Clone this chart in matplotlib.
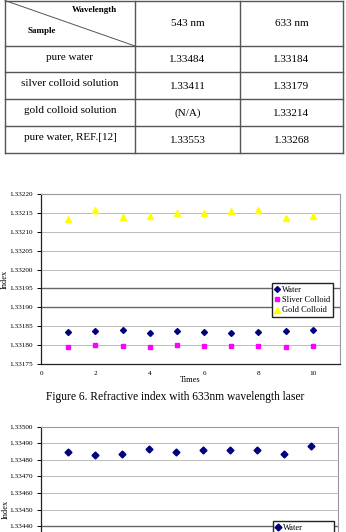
import numpy as np
import matplotlib.pyplot as plt
from matplotlib.lines import Line2D

# ------------------ DATE ------------------
samples = ["pure water", "silver colloid solution", "gold colloid solution", "pure water, REF.[12]"]
wavelengths = ["543 nm", "633 nm"]
idx_543 = ["1.33484", "1.33411", "(N/A)", "1.33553"]
idx_633 = ["1.33184", "1.33179", "1.33214", "1.33268"]

times = [1, 2, 3, 4, 5, 6, 7, 8, 9, 10]
water_633 = [1.331835, 1.331838, 1.331840, 1.331833, 1.331838, 1.331835, 1.331833, 1.331835, 1.331838, 1.331840]
silver_633 = [1.331796, 1.331801, 1.331798, 1.331796, 1.331800, 1.331798, 1.331797, 1.331797, 1.331796, 1.331798]
gold_633 = [1.332135, 1.332157, 1.332139, 1.332141, 1.332150, 1.332149, 1.332155, 1.332157, 1.332137, 1.332141]
water_543 = [1.334844, 1.334828, 1.334836, 1.334866, 1.334844, 1.334856, 1.334856, 1.334858, 1.334836, 1.334882]

caption = "Figure 6. Refractive index with 633nm wavelength laser"

# ------------------ FIGURA ------------------
W, H = 346, 532
plt.rcParams['font.family'] = ['Liberation Serif', 'DejaVu Serif']
fig = plt.figure(figsize=(W / 100, H / 100), dpi=100)


def box(l, t, r, b):
    return [l / W, 1 - b / H, (r - l) / W, (b - t) / H]


# ------------------ TABEL ------------------
tab = fig.add_axes([0, 0, 1, 1])
tab.set_xlim(0, W)
tab.set_ylim(H, 0)
tab.axis("off")

col_x = [5, 135, 240, 343]
row_y = [0.5, 46, 72, 99, 126, 153]
lc = "#555555"
for x in col_x:
    tab.plot([x, x], [row_y[0], row_y[-1]], color=lc, lw=1.0)
for y in row_y:
    tab.plot([col_x[0], col_x[-1]], [y, y], color=lc, lw=1.0)
tab.plot([col_x[0], col_x[1]], [row_y[0], row_y[1]], color=lc, lw=0.7)

tab.text(95, 10, "Wavelength", fontsize=6.5, fontweight="bold", ha="center", va="center")
tab.text(42, 31, "Sample", fontsize=6.5, fontweight="bold", ha="center", va="center")
for j, wl in enumerate(wavelengths):
    tab.text((col_x[j + 1] + col_x[j + 2]) / 2, 24, wl, fontsize=8, ha="center", va="center")
for i, s in enumerate(samples):
    yc = (row_y[i + 1] + row_y[i + 2]) / 2
    tab.text((col_x[0] + col_x[1]) / 2, yc - 2, s, fontsize=8, ha="center", va="center")
    tab.text((col_x[1] + col_x[2]) / 2, yc + 1, idx_543[i], fontsize=8, ha="center", va="center")
    tab.text((col_x[2] + col_x[3]) / 2, yc + 1, idx_633[i], fontsize=8, ha="center", va="center")


def style_axes(ax, yticks, dark_levels=()):
    ax.set_xlim(0, 11)
    ax.set_xticks([0, 2, 4, 6, 8, 10])
    ax.set_yticks(yticks)
    ax.tick_params(axis="x", length=0, labelsize=5.2, pad=5)
    ax.tick_params(axis="y", length=3, width=0.7, labelsize=5.2, pad=3)
    ax.yaxis.set_major_formatter(plt.FormatStrFormatter("%.5f"))
    for sp in ["top", "right"]:
        ax.spines[sp].set_color("#999999")
        ax.spines[sp].set_linewidth(0.8)
    for sp in ["left", "bottom"]:
        ax.spines[sp].set_color("#222222")
        ax.spines[sp].set_linewidth(0.9)
    for t in yticks:
        dark = any(abs(t - d) < 1e-9 for d in dark_levels)
        ax.axhline(t, color="#666666" if dark else "#bbbbbb", lw=1.0 if dark else 0.7, zorder=0)
    ax.set_ylabel("Index", fontsize=6)
    ax.yaxis.set_label_coords(-32 / 299, 0.5)


leg_kw = dict(fontsize=6, frameon=True, fancybox=False, edgecolor="#222222", framealpha=1,
              handlelength=0.6, handletextpad=0.3, borderpad=0.3, labelspacing=0.3,
              borderaxespad=0, bbox_transform=fig.transFigure)

# ------------------ GRAFIC 633 nm ------------------
ax1 = fig.add_axes(box(41, 194, 340, 364))
ax1.plot(times, water_633, "D", color="#000080", ms=3, ls="none", label="Water")
ax1.plot(times, silver_633, "s", color="#ff00ff", ms=3.2, ls="none", label="Sliver Colloid")
ax1.plot(times, gold_633, "^", color="#ffff00", ms=4, ls="none", label="Gold Colloid")
ax1.set_ylim(1.33175, 1.33220)
style_axes(ax1, np.arange(1.33175, 1.332201, 0.00005), dark_levels=(1.33190, 1.33195))
ax1.set_xlabel("Times", fontsize=6, labelpad=0)
ax1.legend(loc="upper right", bbox_to_anchor=(333 / W, 1 - 283 / H), **leg_kw)

fig.text(175 / W, 1 - 397 / H, caption, fontsize=8.3, ha="center", va="center")

# ------------------ GRAFIC 543 nm (taiat jos, ca in original) ------------------
ax2 = fig.add_axes(box(41, 426.5, 338, 592.5))
w2, = ax2.plot(times, water_543, "D", color="#000080", ms=3.5, ls="none", label="Water")
ax2.set_ylim(1.33400, 1.33500)
style_axes(ax2, np.arange(1.33440, 1.335001, 0.0001), dark_levels=(1.33440,))
ax2.tick_params(axis="x", labelbottom=False)
# a doua intrare din legenda e taiata de marginea imaginii
s2 = Line2D([], [], marker="s", color="#ff00ff", ms=3.2, ls="none")
ax2.legend([w2, s2], ["Water", "Sliver Colloid"], loc="upper right",
           bbox_to_anchor=(334 / W, 1 - 521 / H), **leg_kw)

fig.savefig("out.png", dpi=100)
